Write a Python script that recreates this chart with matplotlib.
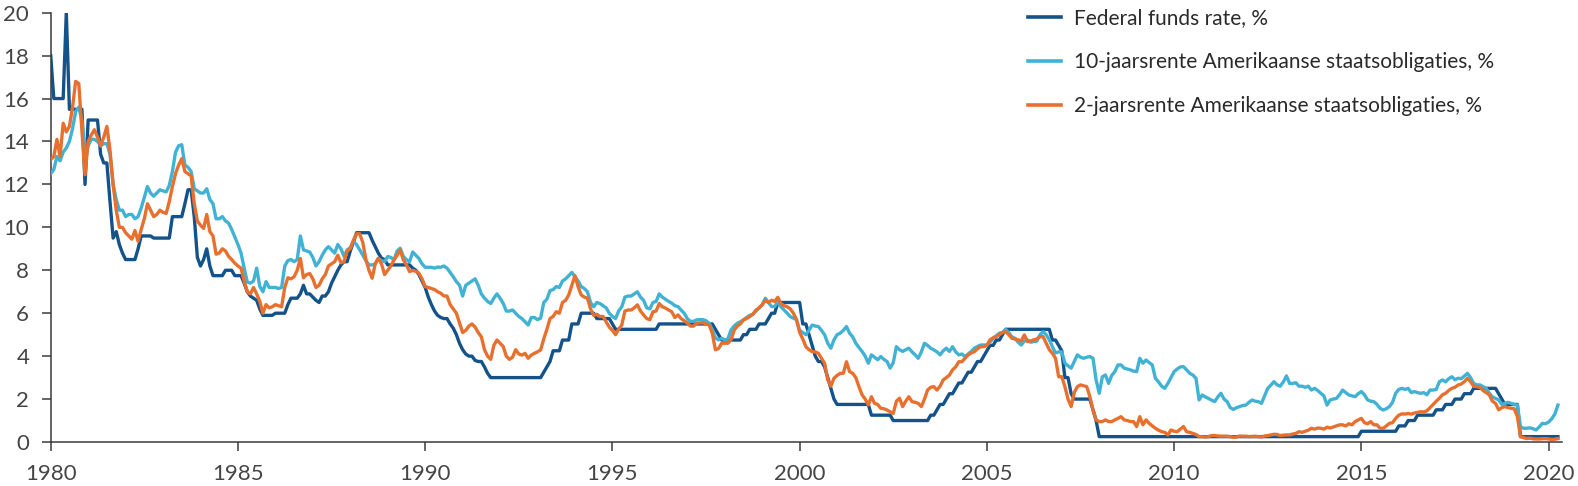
import numpy as np
import matplotlib
matplotlib.use("Agg")
import matplotlib.pyplot as plt

plt.rcParams['font.family'] = ['Lato', 'DejaVu Sans']

# Monthly series; first point = start of 1980 on the chart axis, one value per month
fed_funds = [
    18,
    16, 16, 16, 16, 20, 15.5, 15.5, 15.5, 15.5, 15.5, 12, 15,
    15, 15, 15, 13.4, 13, 13, 11.2, 9.5, 9.8, 9.2, 8.8, 8.5,
    8.5, 8.5, 8.5, 9.0, 9.6, 9.6, 9.6, 9.6, 9.5, 9.5, 9.5, 9.5,
    9.5, 9.5, 10.5, 10.5, 10.5, 10.5, 11.1, 11.75, 11.75, 10.5, 8.6, 8.2,
    8.5, 9.0, 8.2, 7.75, 7.75, 7.75, 7.75, 8.0, 8.0, 8.0, 7.75, 7.75,
    7.75, 7.4, 7.0, 6.8, 6.7, 6.6, 6.2, 5.9, 5.9, 5.9, 5.9, 6.0,
    6.0, 6.0, 6.0, 6.4, 6.7, 6.7, 6.7, 6.9, 7.3, 6.9, 6.9, 6.75,
    6.6, 6.5, 6.8, 6.8, 7.0, 7.4, 7.7, 8.0, 8.25, 8.4, 8.4, 8.9,
    9.3, 9.75, 9.75, 9.75, 9.75, 9.75, 9.4, 9.1, 8.8, 8.56, 8.5, 8.25,
    8.25, 8.25, 8.25, 8.25, 8.25, 8.25, 8.25, 8.1, 8.0, 7.8, 7.5, 7.2,
    6.75, 6.4, 6.1, 5.9, 5.8, 5.75, 5.75, 5.5, 5.3, 5.0, 4.6, 4.3,
    4.1, 4.0, 4.0, 3.8, 3.75, 3.75, 3.5, 3.2, 3.0, 3.0, 3.0, 3.0,
    3.0, 3.0, 3.0, 3.0, 3.0, 3.0, 3.0, 3.0, 3.0, 3.0, 3.0, 3.0,
    3.0, 3.25, 3.5, 3.75, 4.25, 4.25, 4.25, 4.75, 4.75, 4.75, 5.5, 5.5,
    5.5, 6.0, 6.0, 6.0, 6.0, 6.0, 5.75, 5.75, 5.75, 5.75, 5.75, 5.5,
    5.25, 5.25, 5.25, 5.25, 5.25, 5.25, 5.25, 5.25, 5.25, 5.25, 5.25, 5.25,
    5.25, 5.25, 5.5, 5.5, 5.5, 5.5, 5.5, 5.5, 5.5, 5.5, 5.5, 5.5,
    5.5, 5.5, 5.5, 5.5, 5.5, 5.5, 5.5, 5.5, 5.25, 5.0, 4.75, 4.75,
    4.75, 4.75, 4.75, 4.75, 4.75, 5.0, 5.0, 5.25, 5.25, 5.25, 5.5, 5.5,
    5.5, 5.75, 6.0, 6.0, 6.5, 6.5, 6.5, 6.5, 6.5, 6.5, 6.5, 6.5,
    5.5, 5.5, 5.0, 4.5, 4.0, 3.75, 3.75, 3.5, 3.0, 2.5, 2.0, 1.75,
    1.75, 1.75, 1.75, 1.75, 1.75, 1.75, 1.75, 1.75, 1.75, 1.75, 1.25, 1.25,
    1.25, 1.25, 1.25, 1.25, 1.25, 1.0, 1.0, 1.0, 1.0, 1.0, 1.0, 1.0,
    1.0, 1.0, 1.0, 1.0, 1.0, 1.25, 1.25, 1.5, 1.75, 1.75, 2.0, 2.25,
    2.25, 2.5, 2.75, 2.75, 3.0, 3.25, 3.25, 3.5, 3.75, 3.75, 4.0, 4.25,
    4.5, 4.5, 4.75, 4.75, 5.0, 5.25, 5.25, 5.25, 5.25, 5.25, 5.25, 5.25,
    5.25, 5.25, 5.25, 5.25, 5.25, 5.25, 5.25, 5.25, 4.75, 4.75, 4.5, 4.25,
    3.0, 3.0, 2.25, 2.0, 2.0, 2.0, 2.0, 2.0, 2.0, 1.5, 1.0, 0.25,
    0.25, 0.25, 0.25, 0.25, 0.25, 0.25, 0.25, 0.25, 0.25, 0.25, 0.25, 0.25,
    0.25, 0.25, 0.25, 0.25, 0.25, 0.25, 0.25, 0.25, 0.25, 0.25, 0.25, 0.25,
    0.25, 0.25, 0.25, 0.25, 0.25, 0.25, 0.25, 0.25, 0.25, 0.25, 0.25, 0.25,
    0.25, 0.25, 0.25, 0.25, 0.25, 0.25, 0.25, 0.25, 0.25, 0.25, 0.25, 0.25,
    0.25, 0.25, 0.25, 0.25, 0.25, 0.25, 0.25, 0.25, 0.25, 0.25, 0.25, 0.25,
    0.25, 0.25, 0.25, 0.25, 0.25, 0.25, 0.25, 0.25, 0.25, 0.25, 0.25, 0.25,
    0.25, 0.25, 0.25, 0.25, 0.25, 0.25, 0.25, 0.25, 0.25, 0.25, 0.25, 0.5,
    0.5, 0.5, 0.5, 0.5, 0.5, 0.5, 0.5, 0.5, 0.5, 0.5, 0.5, 0.75,
    0.75, 0.75, 1.0, 1.0, 1.0, 1.25, 1.25, 1.25, 1.25, 1.25, 1.25, 1.5,
    1.5, 1.5, 1.75, 1.75, 1.75, 2.0, 2.0, 2.0, 2.25, 2.25, 2.25, 2.5,
    2.5, 2.5, 2.5, 2.5, 2.5, 2.5, 2.5, 2.25, 2.0, 1.75, 1.75, 1.75,
    1.75, 1.75, 0.25, 0.25, 0.25, 0.25, 0.25, 0.25, 0.25, 0.25, 0.25, 0.25,
    0.25, 0.25, 0.25,
]

treasury_10y = [
    12.5,
    12.7, 13.3, 13.1, 13.5, 13.7, 14.0, 14.6, 15.4, 15.6, 15.0, 13.3, 13.8,
    14.1, 14.1, 14.0, 13.8, 13.9, 13.9, 13.4, 12.0, 11.3, 10.8, 10.8, 10.5,
    10.6, 10.6, 10.4, 10.5, 10.9, 11.4, 11.9, 11.6, 11.45, 11.6, 11.75, 11.7,
    11.65, 11.95, 12.6, 13.5, 13.8, 13.85, 12.9, 12.8, 12.6, 11.8, 11.7, 11.6,
    11.6, 11.8, 11.3, 11.1, 10.4, 10.4, 10.5, 10.3, 10.2, 9.9, 9.55, 9.2,
    8.8, 8.1, 7.45, 7.4, 7.5, 8.1, 7.25, 7.0, 7.47, 7.2, 7.2, 7.2,
    7.15, 7.2, 8.2, 8.45, 8.5, 8.4, 8.5, 9.6, 8.95, 8.9, 8.85, 8.6,
    8.2, 8.4, 8.7, 8.95, 9.1, 8.95, 8.8, 9.2, 9.0, 8.65, 8.95, 9.05,
    9.35, 9.2, 8.96, 8.7, 8.45, 8.25, 8.25, 8.3, 8.55, 8.45, 8.4, 8.64,
    8.6, 8.48, 8.9, 9.03, 8.64, 8.5, 8.4, 8.85, 8.7, 8.55, 8.3, 8.14,
    8.14, 8.14, 8.1, 8.15, 8.14, 8.2, 8.1, 7.9, 7.7, 7.47, 7.31, 6.8,
    7.3, 7.4, 7.5, 7.6, 7.3, 6.9, 6.7, 6.55, 6.45, 6.7, 6.9, 6.7,
    6.46, 6.1, 6.1, 6.15, 6.0, 5.85, 5.75, 5.6, 5.45, 5.8, 5.8, 5.7,
    5.77, 6.5, 6.65, 7.05, 7.1, 7.24, 7.2, 7.5, 7.6, 7.75, 7.9, 7.7,
    7.5, 7.24, 7.15, 7.0, 6.5, 6.3, 6.5, 6.45, 6.35, 6.25, 6.0, 5.85,
    5.75, 6.1, 6.3, 6.75, 6.8, 6.8, 6.9, 7.0, 6.75, 6.6, 6.25, 6.2,
    6.5, 6.55, 6.9, 6.75, 6.65, 6.55, 6.47, 6.35, 6.31, 6.15, 6.0, 5.75,
    5.62, 5.62, 5.69, 5.7, 5.7, 5.65, 5.53, 5.22, 4.85, 4.76, 4.83, 4.76,
    4.8, 5.22, 5.4, 5.53, 5.6, 5.69, 5.8, 5.9, 5.95, 6.1, 6.24, 6.4,
    6.7, 6.5, 6.31, 6.31, 6.54, 6.3, 6.15, 6.0, 5.84, 5.77, 5.7, 5.2,
    5.1, 5.0, 5.2, 5.45, 5.4, 5.38, 5.2, 5.0, 4.6, 4.37, 4.76, 5.0,
    5.07, 5.2, 5.38, 5.07, 4.9, 4.6, 4.4, 4.22, 4.0, 3.67, 4.06, 3.95,
    3.83, 3.98, 3.85, 3.75, 3.44, 3.7, 4.44, 4.3, 4.22, 4.3, 4.37, 4.2,
    4.06, 3.9, 4.2, 4.6, 4.5, 4.37, 4.29, 4.2, 4.06, 4.25, 4.37, 4.22,
    4.44, 4.2, 4.06, 4.1, 3.98, 4.1, 4.22, 4.37, 4.45, 4.52, 4.52, 4.52,
    4.65, 4.83, 4.95, 5.07, 5.1, 5.25, 5.1, 4.9, 4.83, 4.65, 4.52, 4.7,
    4.76, 4.65, 4.68, 4.7, 4.99, 5.14, 5.0, 4.76, 4.44, 4.15, 4.2, 4.2,
    3.67, 3.55, 3.44, 3.75, 4.06, 3.95, 3.9, 3.95, 3.98, 3.9, 2.89, 2.27,
    3.04, 3.12, 2.73, 3.1, 3.28, 3.59, 3.59, 3.44, 3.4, 3.36, 3.3, 3.28,
    3.9, 3.67, 3.82, 3.7, 3.59, 2.97, 2.8, 2.6, 2.5, 2.73, 3.0, 3.28,
    3.4, 3.5, 3.51, 3.36, 3.2, 3.12, 2.97, 1.96, 2.19, 2.1, 2.03, 1.95,
    1.88, 2.1, 2.27, 2.0, 1.88, 1.6, 1.52, 1.6, 1.65, 1.7, 1.72, 1.85,
    1.96, 1.9, 1.88, 1.8, 2.15, 2.5, 2.65, 2.81, 2.66, 2.6, 2.8, 3.08,
    2.73, 2.73, 2.76, 2.6, 2.6, 2.55, 2.6, 2.42, 2.5, 2.4, 2.27, 2.15,
    1.72, 1.96, 2.0, 2.03, 2.2, 2.42, 2.3, 2.19, 2.15, 2.11, 2.25, 2.35,
    2.2, 1.96, 1.9, 1.88, 1.75, 1.57, 1.49, 1.55, 1.65, 1.85, 2.27, 2.45,
    2.5, 2.45, 2.5, 2.3, 2.35, 2.3, 2.27, 2.3, 2.2, 2.42, 2.42, 2.45,
    2.81, 2.89, 2.8, 2.95, 3.04, 2.9, 2.97, 2.95, 3.07, 3.2, 3.0, 2.73,
    2.66, 2.66, 2.58, 2.5, 2.27, 2.1, 2.03, 1.96, 1.75, 1.8, 1.85, 1.8,
    1.75, 1.72, 0.7, 0.64, 0.64, 0.66, 0.62, 0.56, 0.7, 0.87, 0.85, 0.93,
    1.08, 1.3, 1.72,
]

treasury_2y = [
    13.15,
    13.3, 14.1, 13.3, 14.85, 14.45, 14.7, 15.6, 16.8, 16.7, 14.5, 12.45, 14.0,
    14.3, 14.55, 14.2, 13.8, 14.2, 14.7, 13.6, 12.0, 10.8, 10.0, 10.0, 9.75,
    9.6, 9.45, 9.85, 9.35, 9.9, 10.4, 11.1, 10.8, 10.5, 10.6, 10.8, 10.7,
    10.65, 11.2, 11.9, 12.5, 12.9, 13.2, 12.6, 12.5, 12.4, 11.1, 10.3, 10.1,
    9.95, 10.6, 9.8, 9.6, 8.75, 8.8, 9.0, 8.9, 8.65, 8.5, 8.33, 8.2,
    8.1, 7.5, 7.0, 6.9, 7.2, 6.9, 6.55, 6.0, 6.4, 6.25, 6.3, 6.4,
    6.35, 6.3, 7.2, 7.65, 7.6, 7.7, 8.0, 8.55, 7.65, 7.8, 7.85, 7.6,
    7.2, 7.3, 7.6, 7.8, 8.2, 8.3, 8.4, 8.7, 8.35, 8.4, 8.9, 9.0,
    9.4, 9.7, 9.7, 9.3, 8.5, 8.0, 7.63, 8.3, 8.56, 8.3, 7.8, 8.0,
    8.2, 8.48, 8.7, 8.95, 8.48, 8.25, 7.94, 8.0, 7.95, 7.86, 7.6, 7.24,
    7.2, 7.15, 7.1, 7.0, 6.93, 6.8, 6.8, 6.4, 6.2, 6.0, 5.55, 5.1,
    5.2, 5.4, 5.5, 5.35, 5.1, 4.9, 4.3, 4.0, 3.85, 4.5, 4.75, 4.6,
    4.45, 4.0, 3.85, 3.95, 4.3, 4.1, 4.05, 4.13, 3.9, 4.05, 4.13, 4.2,
    4.29, 4.8, 5.25, 5.75, 5.85, 6.07, 6.0, 6.5, 6.6, 6.85, 7.3, 7.75,
    7.24, 6.85, 6.75, 6.7, 6.2, 5.9, 5.95, 5.85, 5.85, 5.6, 5.35, 5.2,
    5.0, 5.25, 5.45, 6.1, 6.15, 6.15, 6.25, 6.39, 6.1, 5.92, 5.75, 5.7,
    6.07, 6.1, 6.45, 6.3, 6.24, 6.15, 6.07, 5.8, 5.92, 5.75, 5.65, 5.55,
    5.4, 5.4, 5.53, 5.55, 5.56, 5.5, 5.45, 5.07, 4.3, 4.35, 4.6, 4.6,
    4.6, 4.76, 5.2, 5.4, 5.5, 5.69, 5.75, 5.84, 5.95, 6.15, 6.25, 6.39,
    6.6, 6.5, 6.6, 6.55, 6.74, 6.45, 6.35, 6.3, 6.2, 6.0, 5.7, 5.1,
    4.8, 4.44, 4.3, 4.21, 4.2, 4.13, 3.9, 3.67, 2.9, 2.6, 2.97, 3.1,
    3.2, 3.2, 3.74, 3.28, 3.2, 3.0, 2.58, 2.2, 2.0, 1.73, 2.11, 1.8,
    1.75, 1.57, 1.55, 1.49, 1.41, 1.33, 1.9, 2.04, 1.65, 1.9, 2.11, 1.88,
    1.85, 1.8, 1.65, 2.0, 2.42, 2.55, 2.58, 2.42, 2.6, 2.89, 3.0, 3.12,
    3.36, 3.5, 3.74, 3.74, 3.9, 4.06, 4.15, 4.21, 4.35, 4.44, 4.44, 4.5,
    4.76, 4.85, 4.91, 5.0, 5.1, 5.14, 5.0, 4.83, 4.8, 4.76, 4.7, 4.99,
    4.68, 4.7, 4.76, 4.8, 4.91, 4.91, 4.6, 4.3, 4.13, 3.9, 3.04, 3.04,
    2.58, 2.0, 1.65, 2.3, 2.58, 2.66, 2.62, 2.58, 2.11, 1.5, 1.03, 0.95,
    0.95, 1.03, 0.95, 0.95, 1.03, 1.1, 1.18, 1.03, 1.0, 0.95, 0.95, 0.72,
    1.18, 0.8, 1.03, 0.87, 0.75, 0.64, 0.55, 0.48, 0.45, 0.33, 0.56, 0.5,
    0.48, 0.6, 0.72, 0.48, 0.45, 0.4, 0.35, 0.25, 0.25, 0.23, 0.25, 0.3,
    0.3, 0.28, 0.27, 0.27, 0.27, 0.25, 0.22, 0.23, 0.28, 0.27, 0.27, 0.25,
    0.26, 0.27, 0.25, 0.23, 0.28, 0.3, 0.33, 0.36, 0.35, 0.3, 0.32, 0.33,
    0.33, 0.37, 0.4, 0.48, 0.45, 0.5, 0.55, 0.64, 0.6, 0.65, 0.64, 0.6,
    0.69, 0.65, 0.7, 0.75, 0.8, 0.8, 0.75, 0.85, 0.8, 0.95, 1.03, 1.1,
    0.9, 0.85, 0.95, 0.8, 0.8, 0.64, 0.64, 0.75, 0.87, 0.9, 1.1, 1.25,
    1.31, 1.3, 1.33, 1.3, 1.35, 1.38, 1.41, 1.4, 1.45, 1.6, 1.75, 1.9,
    2.04, 2.2, 2.27, 2.4, 2.5, 2.55, 2.66, 2.7, 2.81, 2.97, 2.8, 2.6,
    2.58, 2.55, 2.4, 2.3, 2.2, 1.9, 1.8, 1.5, 1.6, 1.65, 1.6, 1.57,
    1.55, 1.18, 0.25, 0.2, 0.16, 0.18, 0.15, 0.14, 0.14, 0.15, 0.16, 0.14,
    0.12, 0.13, 0.16,
]

labels = ["Federal funds rate, %",
          "10-jaarsrente Amerikaanse staatsobligaties, %",
          "2-jaarsrente Amerikaanse staatsobligaties, %"]
colors = ["#14528a", "#41b2d3", "#e8702f"]
x_ticks = [1980, 1985, 1990, 1995, 2000, 2005, 2010, 2015, 2020]
y_ticks = [0, 2, 4, 6, 8, 10, 12, 14, 16, 18, 20]

W, H = 1578, 486
fig = plt.figure(figsize=(W / 100, H / 100), dpi=100)
ax = fig.add_axes([50.7 / W, (H - 442) / H, 1511 / W, (442 - 12.7) / H])

start = 1980.0
for series, col, lab, z in zip([fed_funds, treasury_10y, treasury_2y], colors, labels, [2, 3, 4]):
    xs = start + np.arange(len(series)) / 12.0
    ax.plot(xs, series, color=col, lw=2.4, label=lab, zorder=z, solid_joinstyle='round')

ax.set_xlim(1980, 2020.35)
ax.set_ylim(0, 20)
ax.set_xticks(x_ticks)
ax.set_yticks(y_ticks)
ax.set_xticklabels([str(t) for t in x_ticks])
ax.set_yticklabels([str(t) for t in y_ticks])

spine_col = "#3a3a3a"
for s in ["top", "right"]:
    ax.spines[s].set_visible(False)
for s in ["left", "bottom"]:
    ax.spines[s].set_color(spine_col)
    ax.spines[s].set_linewidth(1.1)
ax.tick_params(axis='both', colors=spine_col, width=1.1, length=6.5,
               labelsize=16, labelcolor="#454545")
ax.tick_params(axis='y', pad=9)
ax.tick_params(axis='x', pad=9)

leg = ax.legend(loc='upper left', bbox_to_anchor=(1028 / W, 1 - 8 / H),
                bbox_transform=fig.transFigure, frameon=False,
                fontsize=15, handlelength=1.6, handletextpad=0.6,
                labelspacing=1.15, borderpad=0, borderaxespad=0)
for t in leg.get_texts():
    t.set_color("#2a2a2a")
for l in leg.get_lines():
    l.set_linewidth(2.6)

fig.savefig("out.png", dpi=100)
